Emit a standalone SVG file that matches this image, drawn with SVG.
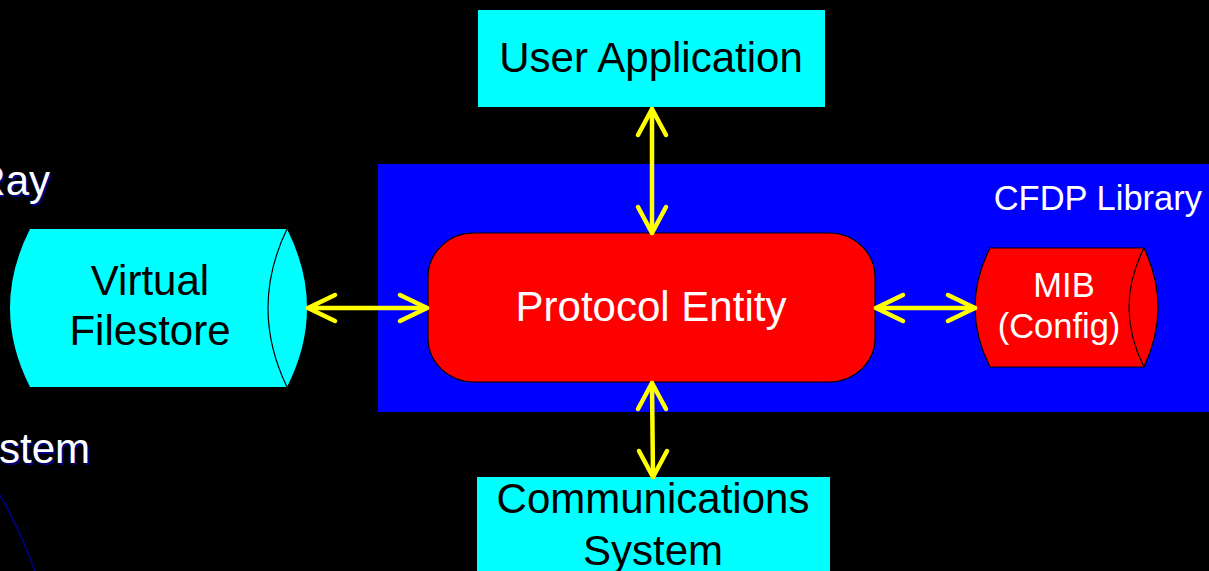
<svg xmlns="http://www.w3.org/2000/svg" width="1209" height="571" viewBox="0 0 1209 571">
  <defs>
    <style>
      text { font-family: "Liberation Sans", Arial, sans-serif; }
      .big { font-size: 42px; }
      .small { font-size: 34.5px; }
      .dark { fill: #000000; }
      .light { fill: #ffffff; }
      .shadow { fill: #000080; }
      .cyan { fill: #00ffff; }
      .red { fill: #ff0000; stroke: #000000; stroke-width: 1.2; }
      .edge { fill: none; stroke: #000000; stroke-width: 1.2; }
      .arrow { fill: none; stroke: #ffff00; stroke-width: 4.5; stroke-linecap: round; stroke-linejoin: round; }
    </style>
  </defs>

  <!-- background -->
  <rect x="0" y="0" width="1209" height="571" fill="#000000"/>

  <!-- leftover slide text at the left edge -->
  <g id="edge-text" class="big">
    <text x="52" y="197" text-anchor="end" class="shadow">Ray</text>
    <text x="50" y="195" text-anchor="end" class="light">Ray</text>
    <text x="92" y="465" text-anchor="end" class="shadow">stem</text>
    <text x="90" y="463" text-anchor="end" class="light">stem</text>
    <path d="M0,495 Q20,530 35,571" fill="none" stroke="#000070" stroke-width="2"/>
  </g>

  <!-- library boundary -->
  <g id="cfdp-library">
    <rect x="378" y="164" width="840" height="248" fill="#0000ff"/>
    <text x="1202" y="210" text-anchor="end" class="small light">CFDP Library</text>
  </g>

  <g id="user-application">
    <rect x="478" y="10" width="347" height="97" class="cyan"/>
    <text x="651" y="72" text-anchor="middle" class="big dark">User Application</text>
  </g>

  <g id="communications-system">
    <rect x="477" y="477" width="353" height="100" class="cyan"/>
    <text x="653" y="513" text-anchor="middle" class="big dark">Communications</text>
    <text x="653" y="565" text-anchor="middle" class="big dark">System</text>
  </g>

  <g id="virtual-filestore">
    <path d="M30,229 L287,229 Q327,308 287,387 L30,387 Q-10,308 30,229 Z" class="cyan"/>
    <path d="M287,229 Q249,308 287,387" class="edge"/>
    <text x="150" y="295" text-anchor="middle" class="big dark">Virtual</text>
    <text x="150" y="345" text-anchor="middle" class="big dark">Filestore</text>
  </g>

  <g id="protocol-entity">
    <rect x="428" y="233" width="447" height="149" rx="46" ry="44" class="red"/>
    <text x="651" y="321" text-anchor="middle" class="big light">Protocol Entity</text>
  </g>

  <g id="mib">
    <path d="M990,248 L1144,248 Q1172,307.5 1144,367 L990,367 Q960,307.5 990,248 Z" class="red"/>
    <path d="M1144,248 Q1114,307.5 1144,367" class="edge"/>
    <text x="1064" y="297" text-anchor="middle" class="small light">MIB</text>
    <text x="1059" y="338" text-anchor="middle" class="small light">(Config)</text>
  </g>

  <!-- two-way connectors with open chevron heads -->
  <g id="connectors" class="arrow">
    <!-- user application <-> protocol entity -->
    <path d="M652,109 L652,233"/>
    <path d="M638,135 L652,109 L666,135"/>
    <path d="M638,207 L652,233 L666,207"/>
    <!-- protocol entity <-> communications system -->
    <path d="M652,383 L653,477"/>
    <path d="M638,409 L652,383 L666,409"/>
    <path d="M639,451 L653,477 L667,451"/>
    <!-- filestore <-> protocol entity -->
    <path d="M308,308 L427,308"/>
    <path d="M335,295 L308,308 L335,321"/>
    <path d="M400,295 L427,308 L400,321"/>
    <!-- protocol entity <-> MIB -->
    <path d="M876,308 L975,308"/>
    <path d="M903,295 L876,308 L903,321"/>
    <path d="M948,295 L975,308 L948,321"/>
  </g>
</svg>
